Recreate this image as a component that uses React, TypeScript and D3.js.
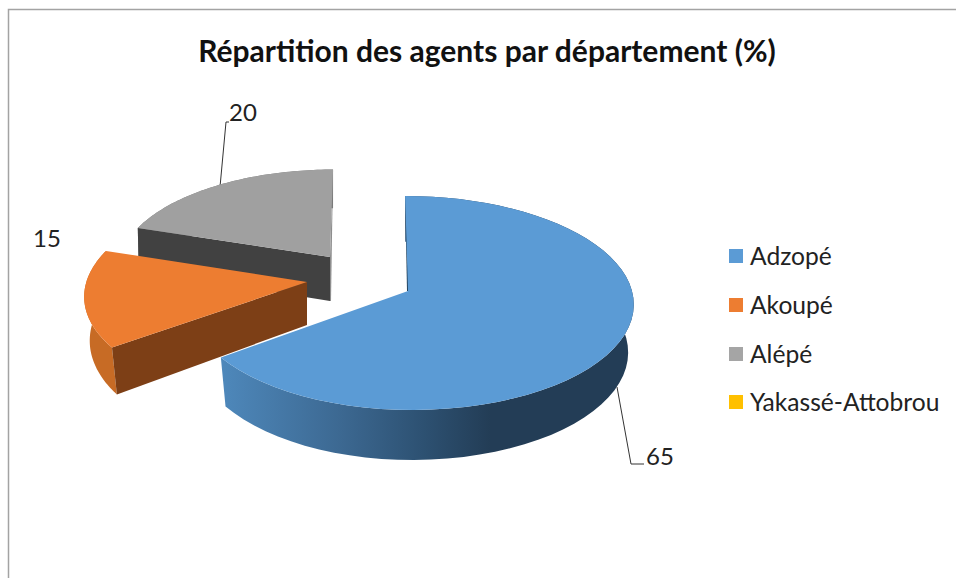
import React from "react";
import * as d3 from "d3";

const categories = ["Adzopé", "Akoupé", "Alépé", "Yakassé-Attobrou"];
const values = [65, 15, 20, 0];
const colors = ["#5B9BD5", "#ED7D31", "#A5A5A5", "#FFC000"];
const title = "Répartition des agents par département (%)";

const W = 956, H = 578;
const FONT = "Lato, 'Open Sans', sans-serif";
// per-slice exploded placement: apex, scale, skew, extrusion
const apexX = [408, 307, 330];
const apexY = [291, 282, 257];
const scaleK = [1, 0.985, 0.92];
const leftK = [0.975, 1, 1.02];
const skewK = [-0.03, 0.06, 0.035];
const depth = [47.6, 43, 44];
const bottomSx = [0.975, 0.975, 0.995];
const bottomSy = [1.02, 1.06, 1.06];
const cutFill = ["#234059", "#7D3F16", "#414141"];
const rimFill = ["url(#rimBlue)", "#C76B25", "#7A7A7A"];
const topFill = ["#5B9BD5", "#ED7D31", "#A0A0A0"];

const A = 105.7, B = 224, K = 0.112;

const pie = d3.pie<number>().sort(null).value((d) => d).startAngle(0).endAngle(2 * Math.PI);
const arcs = pie(values);
const line = d3.line<[number, number]>();

function topPt(i: number, th: number): [number, number] {
  const u = Math.sin(th), v = Math.cos(th), w = 1 + K * v;
  const dy = (-A * v / w) * scaleK[i];
  const dx = (B * u / w) * scaleK[i] * (u < 0 ? leftK[i] : 1) + skewK[i] * -dy;
  return [apexX[i] + dx, apexY[i] + dy];
}
function botPt(i: number, p: [number, number]): [number, number] {
  return [
    apexX[i] + (p[0] - apexX[i]) * bottomSx[i],
    apexY[i] + depth[i] + (p[1] - apexY[i]) * bottomSy[i],
  ];
}
function samples(a0: number, a1: number) {
  return d3.range(0, 61).map((k) => a0 + ((a1 - a0) * k) / 60);
}

function Slice({ i }: { i: number }) {
  const { startAngle: a0, endAngle: a1 } = arcs[i];
  const apex: [number, number] = [apexX[i], apexY[i]];
  const rimTop = samples(a0, a1).map((t) => topPt(i, t));
  const rimBot = rimTop.map((p) => botPt(i, p));
  const top = line([apex, ...rimTop]) + "Z";
  const rim = line([...rimTop, ...rimBot.slice().reverse()]) + "Z";
  const first = rimTop[0], last = rimTop[rimTop.length - 1];
  const apexB = botPt(i, apex);
  // the face that looks toward the viewer is always the one at the slice's start angle,
  // except for the first slice, where only a thin sliver of the back wall shows
  const cut =
    i === 0
      ? line([first, [apex[0] - 1, apex[1]], [apex[0] + 1, apex[1]]]) + "Z"
      : line([apex, first, botPt(i, first), apexB]) + "Z";
  return (
    <g>
      {i === 2 && <path d={line([last, apex, apexB, [apex[0] + 1, apexB[1]]]) + "Z"} fill="#8E8E8E" />}
      <path d={rim} fill={rimFill[i]} />
      <path d={cut} fill={cutFill[i]} />
      <path d={top} fill={topFill[i]} />
    </g>
  );
}

const legendY = [256, 305, 354, 402];

export default function App() {
  return (
    <svg
      width={W}
      height={H}
      viewBox={`0 0 ${W} ${H}`}
      style={{ position: "fixed", left: 0, top: 0, display: "block", background: "#fff" }}
      fontFamily={FONT}
    >
      <defs>
        <linearGradient id="rimBlue" gradientUnits="userSpaceOnUse" x1={221} x2={490} y1={0} y2={0}>
          <stop offset="0" stopColor="#4E88BB" />
          <stop offset="0.45" stopColor="#3C6891" />
          <stop offset="0.75" stopColor="#2D5172" />
          <stop offset="1" stopColor="#233D56" />
        </linearGradient>
      </defs>
      <path d={`M8.5 578V9.5H956`} fill="none" stroke="#A3A3A3" strokeWidth={1.5} />
      <text x={487} y={62} textAnchor="middle" fontSize={30} fontWeight={700} fill="#111">
        {title}
      </text>

      <path d="M220 187L226 122H229" fill="none" stroke="#333" strokeWidth={1} />
      <path d="M617 387L631 464H644" fill="none" stroke="#333" strokeWidth={1} />

      <Slice i={2} />
      <Slice i={1} />
      <Slice i={0} />

      <text x={33} y={247} fontSize={24} fill="#222">{values[1]}</text>
      <text x={229} y={121} fontSize={24} fill="#222">{values[2]}</text>
      <text x={646} y={465} fontSize={24} fill="#222">{values[0]}</text>

      {categories.map((c, i) => (
        <g key={c}>
          <rect x={729} y={legendY[i] - 7} width={14} height={14} fill={colors[i]} />
          <text x={750} y={legendY[i] + 8.5} fontSize={24.6} fill="#222">{c}</text>
        </g>
      ))}
    </svg>
  );
}
